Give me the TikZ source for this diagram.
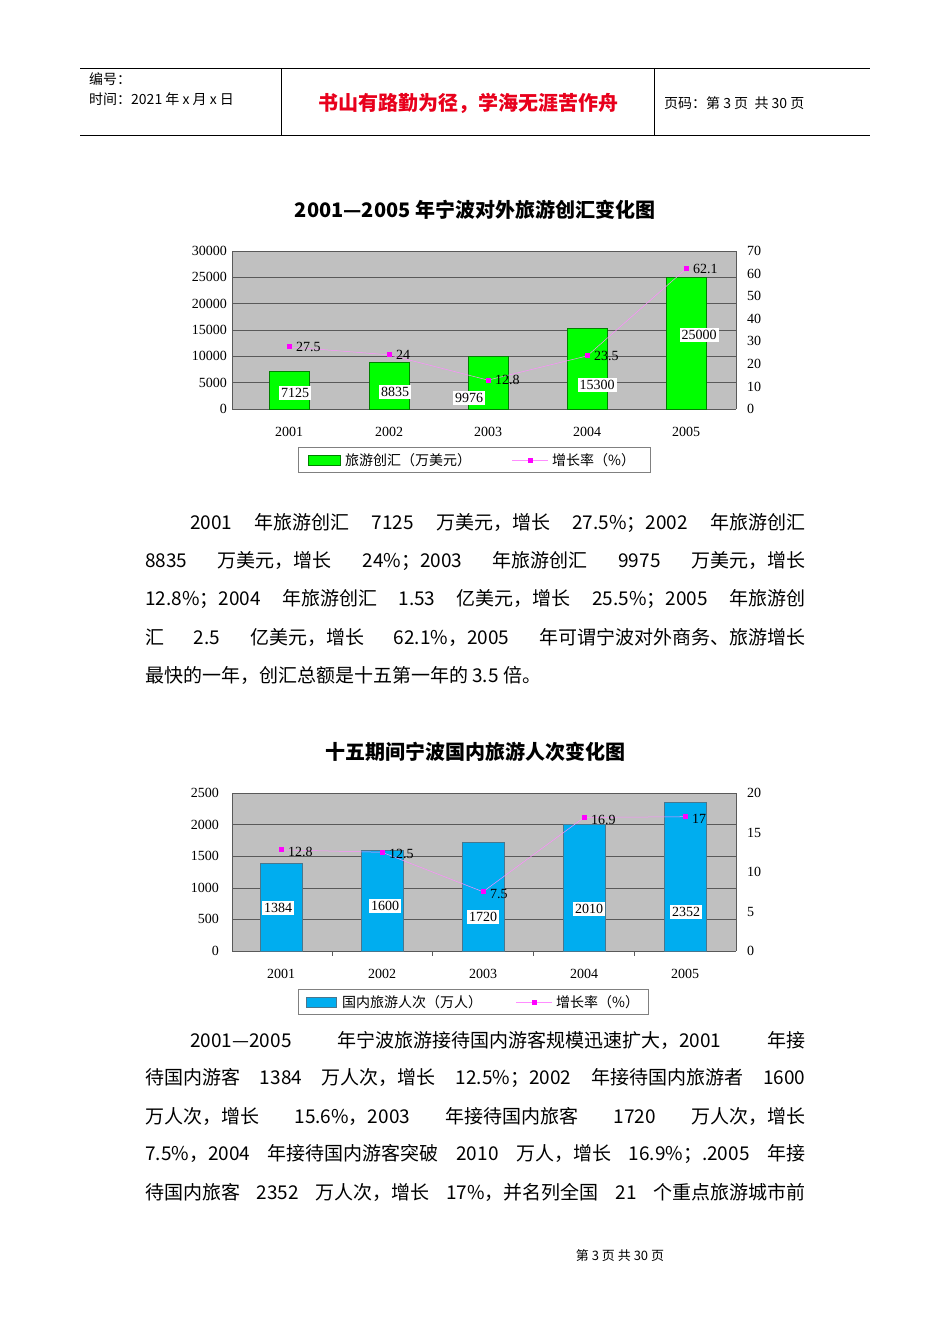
\documentclass[tikz,border=0pt]{standalone}
\usepackage{fontspec}
\setmainfont{Liberation Serif}
\newfontfamily\cjk{Noto Sans CJK SC}
\XeTeXlinebreaklocale "zh"
\XeTeXlinebreakskip=0pt plus 3pt
\definecolor{plotbg}{HTML}{C0C0C0}
\definecolor{mag}{HTML}{FF00FF}
\definecolor{hdrred}{HTML}{E8001C}
\newcommand{\bodyline}[1]{\makebox[660pt][s]{\cjk\fontsize{19}{19}\selectfont #1}}
\begin{document}
\begin{tikzpicture}[x=1pt,y=-1pt,
  ax/.style={font=\fontsize{14}{14}\selectfont,inner sep=1pt},
  vlab/.style={fill=white,font=\fontsize{14}{14}\selectfont,inner sep=2pt},
  rlab/.style={font=\fontsize{14}{14}\selectfont,anchor=west,inner sep=1pt},
  mk/.style={fill=mag,minimum size=5pt,inner sep=0pt},
  rate/.style={mag!45,line width=0.5pt},
  grid/.style={gray!70!black,line width=0.5pt},
  bar1/.style={fill=green,draw=green!50!black,line width=0.4pt},
  bar2/.style={fill=cyan,draw=cyan!50!black,line width=0.4pt},
  ttl/.style={font=\cjk\bfseries\fontsize{20}{20}\selectfont},
  bl/.style={anchor=west,inner sep=0pt}]
\useasboundingbox (0,0) rectangle (950,1344);
\fill[white] (0,0) rectangle (950,1344);
% header
\draw[line width=0.6pt] (80,68) -- (870,68) (80,135) -- (870,135) (281,68) -- (281,135) (654,68) -- (654,135);
\node[anchor=west,inner sep=0pt,font=\cjk\fontsize{14}{14}\selectfont] (h1) at (89,79) {编号：};
\node[anchor=west,inner sep=0pt,font=\cjk\fontsize{14}{14}\selectfont] (h2) at (89,99) {时间：2021 年 x 月 x 日};
\node[inner sep=0pt,text=hdrred,font=\cjk\bfseries\fontsize{20}{20}\selectfont] (h3) at (468,103) {书山有路勤为径，学海无涯苦作舟};
\node[anchor=west,inner sep=0pt,font=\cjk\fontsize{14}{14}\selectfont] (h4) at (664,103) {页码：第 3 页\ \ 共 30 页};
% ===== chart 1 =====
\node[ttl] (t1) at (475,210) {2001—2005 年宁波对外旅游创汇变化图};
\fill[plotbg] (232,251) rectangle (736,409);
\foreach \i in {0,...,6} \draw[grid] (232,{409-\i*158/6}) -- (736,{409-\i*158/6});
\draw[grid] (232,251) -- (232,409) (736,251) -- (736,409);
\foreach \v [count=\i from 0] in {0,5000,10000,15000,20000,25000,30000}
  \node[ax,anchor=east] (la\i) at (228,{409-\i*158/6}) {\v};
\foreach \v [count=\i from 0] in {0,10,20,30,40,50,60,70}
  \node[ax,anchor=west] (ra\i) at (746,{409-\i*158/7}) {\v};
\foreach \c/\val/\yr [count=\i] in {289/7.125/2001,389/8.835/2002,488/9.976/2003,587/15.3/2004,686/25/2005}{
  \draw[bar1] (\c-20,409) rectangle (\c+20,{409-\val/30*158});
  \node[ax] (yr\i) at (\c,432) {\yr};}
\foreach \c/\r [count=\i] in {289/27.5,389/24,488/12.8,587/23.5,686/62.1}
  \coordinate (p\i) at (\c,{409-\r*158/70});
\draw[rate] (p1) -- (p2) -- (p3) -- (p4) -- (p5);
\foreach \r [count=\i] in {27.5,24,12.8,23.5,62.1}{
  \node[mk] (m\i) at (p\i) {};
  \node[rlab] (r\i) at ([xshift=6pt]p\i) {\r};}
\node[vlab] (v1) at (295,393) {7125};
\node[vlab] (v2) at (395,392) {8835};
\node[vlab] (v3) at (469,398) {9976};
\node[vlab] (v4) at (597,385) {15300};
\node[vlab] (v5) at (699,335) {25000};
\draw[gray,line width=0.5pt] (298,447) rectangle (650,472);
\fill[green,draw=green!50!black] (308,455) rectangle (340,465);
\node[anchor=west,inner sep=0pt,font=\cjk\fontsize{14}{14}\selectfont] (lg1) at (345,460) {旅游创汇（万美元）};
\draw[rate] (512,460) -- (548,460);
\node[mk] (lm1) at (530,460) {};
\node[anchor=west,inner sep=0pt,font=\cjk\fontsize{14}{14}\selectfont] (lg2) at (552,460) {增长率（\%）};
% body 1
\node[bl] (b1) at (190,523) {\makebox[615pt][s]{\cjk\fontsize{19}{19}\selectfont 2001 年旅游创汇 7125 万美元，增长 27.5\%；2002 年旅游创汇}};
\node[bl] (b2) at (145,561) {\bodyline{8835 万美元，增长 24\%；2003 年旅游创汇 9975 万美元，增长}};
\node[bl] (b3) at (145,599) {\bodyline{12.8\%；2004 年旅游创汇 1.53 亿美元，增长 25.5\%；2005 年旅游创}};
\node[bl] (b4) at (145,637) {\bodyline{汇 2.5 亿美元，增长 62.1\%，2005 年可谓宁波对外商务、旅游增长}};
\node[bl] (b5) at (145,675) {\cjk\fontsize{19}{19}\selectfont 最快的一年，创汇总额是十五第一年的 3.5 倍。};
% ===== chart 2 =====
\node[ttl] (t2) at (475,752) {十五期间宁波国内旅游人次变化图};
\fill[plotbg] (232,793) rectangle (736,951);
\foreach \i in {0,...,5} \draw[grid] (232,{951-\i*158/5}) -- (736,{951-\i*158/5});
\draw[grid] (232,793) -- (232,951) (736,793) -- (736,951);
\foreach \x in {332,432,533,634} \draw[grid] (\x,951) -- (\x,956);
\foreach \v [count=\i from 0] in {0,500,1000,1500,2000,2500}
  \node[ax,anchor=east] (lb\i) at (220,{951-\i*158/5}) {\v};
\foreach \v [count=\i from 0] in {0,5,10,15,20}
  \node[ax,anchor=west] (rb\i) at (746,{951-\i*158/4}) {\v};
\foreach \c/\val/\yr [count=\i] in {281/1.384/2001,382/1.6/2002,483/1.72/2003,584/2.01/2004,685/2.352/2005}{
  \draw[bar2] (\c-21,951) rectangle (\c+21,{951-\val/2.5*158});
  \node[ax] (zr\i) at (\c,974) {\yr};}
\foreach \c/\r [count=\i] in {281/12.8,382/12.5,483/7.5,584/16.9,685/17}
  \coordinate (q\i) at (\c,{951-\r*158/20});
\draw[rate] (q1) -- (q2) -- (q3) -- (q4) -- (q5);
\foreach \r [count=\i] in {12.8,12.5,7.5,16.9,17}{
  \node[mk] (n\i) at (q\i) {};
  \node[rlab] (s\i) at ([xshift=6pt,yshift=-2pt]q\i) {\r};}
\node[vlab] (w1) at (278,908) {1384};
\node[vlab] (w2) at (385,906) {1600};
\node[vlab] (w3) at (483,917) {1720};
\node[vlab] (w4) at (589,909) {2010};
\node[vlab] (w5) at (686,912) {2352};
\draw[gray,line width=0.5pt] (298,989) rectangle (648,1014);
\fill[cyan,draw=cyan!50!black] (306,997) rectangle (336,1007);
\node[anchor=west,inner sep=0pt,font=\cjk\fontsize{14}{14}\selectfont] (lg3) at (342,1002) {国内旅游人次（万人）};
\draw[rate] (516,1002) -- (552,1002);
\node[mk] (lm2) at (534,1002) {};
\node[anchor=west,inner sep=0pt,font=\cjk\fontsize{14}{14}\selectfont] (lg4) at (556,1002) {增长率（\%）};
% body 2
\node[bl] (c1) at (190,1040) {\makebox[615pt][s]{\cjk\fontsize{19}{19}\selectfont 2001—2005 年宁波旅游接待国内游客规模迅速扩大，2001 年接}};
\node[bl] (c2) at (145,1078) {\bodyline{待国内游客 1384 万人次，增长 12.5\%；2002 年接待国内旅游者 1600}};
\node[bl] (c3) at (145,1116) {\bodyline{万人次，增长 15.6\%，2003 年接待国内旅客 1720 万人次，增长}};
\node[bl] (c4) at (145,1154) {\bodyline{7.5\%，2004 年接待国内游客突破 2010 万人，增长 16.9\%；.2005 年接}};
\node[bl] (c5) at (145,1192) {\bodyline{待国内旅客 2352 万人次，增长 17\%，并名列全国 21 个重点旅游城市前}};
% footer
\node[inner sep=0pt,font=\cjk\fontsize{13}{13}\selectfont] (ft) at (620,1256) {第 3 页 共 30 页};
\end{tikzpicture}
\end{document}
